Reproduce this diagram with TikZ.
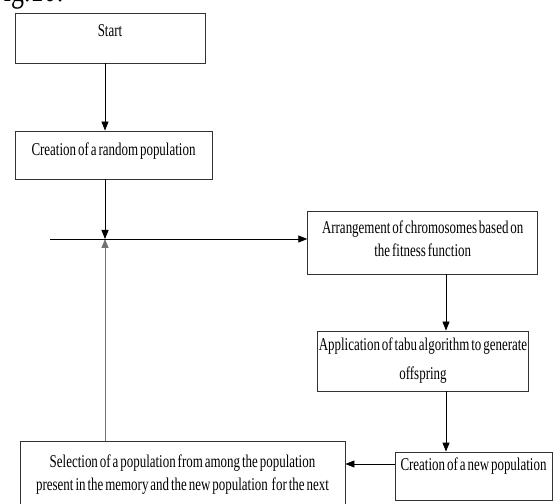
\documentclass[tikz,border=0pt]{standalone}
\usepackage{fontspec}
\setmainfont[FakeStretch=0.72,WordSpace=0.6]{Liberation Serif}
\usetikzlibrary{arrows.meta,positioning}

\begin{document}
\begin{tikzpicture}[x=1pt,y=1pt,
      font=\fontsize{18}{23}\selectfont,
      box/.style={draw=black!80,line width=0.8pt,align=center,inner xsep=1pt,inner ysep=2pt},
      arr/.style={-{Triangle[length=9pt,width=7pt]},line width=0.8pt},
      back/.style={arr,draw=black!55}]
    \useasboundingbox (0,0) rectangle (553,503);
    \clip (0,0) rectangle (553,503);
    \node[anchor=base west,font=\fontsize{36}{38}\selectfont] (fig) at (-14,501) {Fig.10:};
    \node[box,minimum width=190pt,minimum height=50pt,text height=13pt,text depth=15pt] (start) at (110,465) {Start};
    \node[box,minimum width=197pt,minimum height=48pt,text height=13pt,text depth=12pt] (rand) at (113.5,348) {Creation of a random population};
    \node[box,minimum width=230pt,minimum height=63pt,text depth=8pt] (arrange) at (422.7,260.5) {Arrangement of chromosomes based on\\the fitness function};
    \node[box,minimum width=210pt,minimum height=60pt] (tabu) at (423,142) {Application of tabu algorithm to generate\\[6pt]offspring};
    \node[box,minimum width=157pt,minimum height=48pt,text height=13pt,text depth=24pt] (newpop) at (473.5,27) {Creation of a new population};
    \node[box,anchor=north,minimum width=325pt,inner ysep=13pt] (select) at (182.5,62) {Selection of a population from among the population\\present in the memory and the new population\ \ for the next};
    \coordinate (join) at (105,264);
    \coordinate (entry) at (50,264);
    \coordinate (rcol) at (446,0);
    \draw[arr] (start.south -| join) -- (rand.north -| join);
    \draw[arr] (rand.south -| join) -- (join);
    \draw[back] (select.north -| join) -- (join);
    \draw[arr] (entry) -- (arrange.west |- join);
    \draw[arr] (arrange.south -| rcol) -- (tabu.north -| rcol);
    \draw[arr] (tabu.south -| rcol) -- (newpop.north -| rcol);
    \draw[arr] ([yshift=12pt]newpop.west) -- ([yshift=12pt]newpop.west -| select.east);
  \end{tikzpicture}
\end{document}
